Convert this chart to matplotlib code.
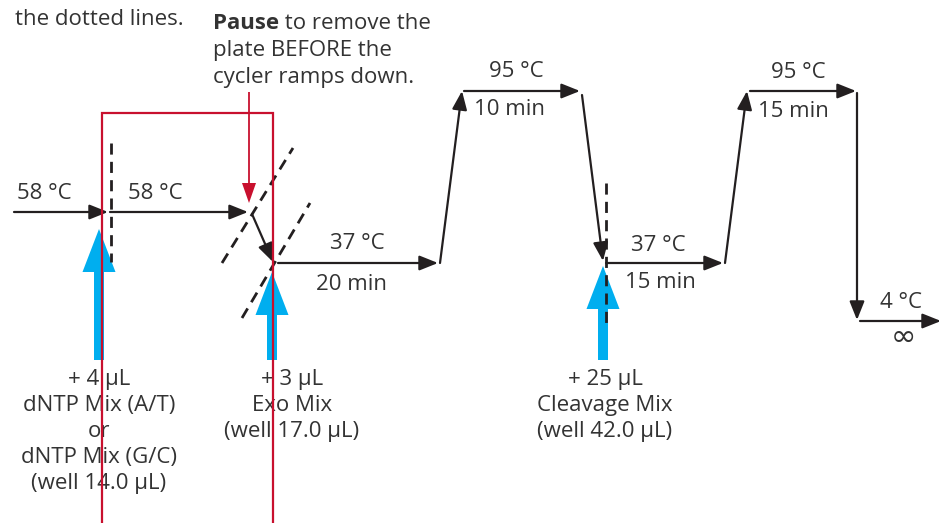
import matplotlib
matplotlib.use("Agg")
import matplotlib.pyplot as plt

plt.rcParams['font.family'] = ['Open Sans', 'DejaVu Sans']

# --- datos del protocolo ---
hold_temps = ["58 °C", "58 °C", "37 °C", "95 °C", "37 °C", "95 °C", "4 °C"]
hold_times = ["", "", "20 min", "10 min", "15 min", "15 min", "∞"]

add_labels = [
    "+ 4 µL\ndNTP Mix (A/T)\nor\ndNTP Mix (G/C)\n(well 14.0 µL)",
    "+ 3 µL\nExo Mix\n(well 17.0 µL)",
    "+ 25 µL\nCleavage Mix\n(well 42.0 µL)",
]

note_top = "the dotted lines."
pause_lines = ["Pause", " to remove the", "plate BEFORE the", "cycler ramps down."]

# --- geometría del esquema (px, eje y invertido) ---
# segmentos del perfil de temperatura: (x0, y0, x1, y1)
profile_segments = [
    (14, 212, 108, 212),
    (110, 212, 248, 212),
    (252, 214, 273, 262),
    (278, 263, 438, 263),
    (440, 263, 462, 91),
    (464, 91, 580, 91),
    (582, 95, 603, 261),
    (606, 263, 723, 263),
    (725, 263, 747, 91),
    (750, 91, 856, 91),
    (857, 93, 857, 320),
    (860, 321, 941, 321),
]
# posición de las etiquetas: (x, baseline, ha)
temp_pos = [(17, 199, 'left'), (128, 199, 'left'), (357, 249, 'center'),
            (516, 77, 'center'), (658, 251, 'center'), (798, 78, 'center'),
            (901, 308, 'center')]
time_pos = [None, None, (352, 290), (510, 115), (660, 288), (793, 117), (903, 346)]

dashed_segments = [
    (111, 143, 111, 262),
    (606, 183, 606, 327),
    (222, 263, 293, 148),
    (242, 318, 310, 203),
]

blue_x = [99, 272, 603]
blue_tip = [229, 272, 266]
add_center = [99, 292, 605]

BLACK = "#231f20"
TEXT = "#333333"
RED = "#c8102e"
BLUE = "#00aeef"
FS = 16

fig = plt.figure(figsize=(9.39, 5.23), dpi=100)
fig.patch.set_facecolor('white')
ax = fig.add_axes([0, 0, 1, 1])
ax.set_xlim(0, 939)
ax.set_ylim(523, 0)
ax.axis("off")

# flechas azules (adición de reactivos)
for x, tip in zip(blue_x, blue_tip):
    ax.arrow(x, 360, 0, tip - 360, width=10, head_width=33, head_length=43,
             length_includes_head=True, color=BLUE, lw=0, zorder=2)

# líneas punteadas
for x0, y0, x1, y1 in dashed_segments:
    ax.plot([x0, x1], [y0, y1], color=BLACK, lw=2, dashes=(4, 2.6), zorder=3)

# perfil del ciclador
for x0, y0, x1, y1 in profile_segments:
    ax.annotate("", xy=(x1, y1), xytext=(x0, y0), annotation_clip=False,
                arrowprops=dict(arrowstyle="-|>,head_length=0.75,head_width=0.3",
                                lw=1.6, color=BLACK, shrinkA=0, shrinkB=0,
                                mutation_scale=15),
                zorder=4)

# etiquetas de temperatura y tiempo
for lab, (x, yb, ha) in zip(hold_temps, temp_pos):
    ax.text(x, yb, lab, fontsize=FS, color=TEXT, ha=ha, va='baseline', zorder=5)
for lab, pos in zip(hold_times, time_pos):
    if pos is None:
        continue
    if lab == "∞":
        ax.text(pos[0], pos[1], lab, fontsize=22, color=TEXT, ha='center',
                va='baseline', family='DejaVu Sans', zorder=5)
    else:
        ax.text(pos[0], pos[1], lab, fontsize=FS, color=TEXT, ha='center',
                va='baseline', zorder=5)

# textos de adición
for lab, xc in zip(add_labels, add_center):
    for i, line in enumerate(lab.split("\n")):
        ax.text(xc, 385 + 26 * i, line, fontsize=FS, color=TEXT, ha='center',
                va='baseline', zorder=5)

# notas superiores
ax.text(15, 25, note_top, fontsize=FS, color=TEXT, ha='left', va='baseline')
t_pause = ax.text(213, 29, pause_lines[0], fontsize=FS, color=TEXT,
                  fontweight='bold', ha='left', va='baseline')
ax.annotate(pause_lines[1], xy=(1, 0), xycoords=t_pause, fontsize=FS,
            color=TEXT, ha='left', va='bottom')
ax.text(213, 56, pause_lines[2], fontsize=FS, color=TEXT, ha='left', va='baseline')
ax.text(213, 83, pause_lines[3], fontsize=FS, color=TEXT, ha='left', va='baseline')

# recuadro rojo y flecha de pausa
ax.plot([102, 102, 273, 273], [530, 113, 113, 530], color=RED, lw=1.6,
        solid_joinstyle='miter', zorder=6)
ax.arrow(249, 92, 0, 111, width=1.8, head_width=14, head_length=20,
         length_includes_head=True, color=RED, lw=0, zorder=6)

fig.savefig("out.png", dpi=100, facecolor='white')
plt.close(fig)
